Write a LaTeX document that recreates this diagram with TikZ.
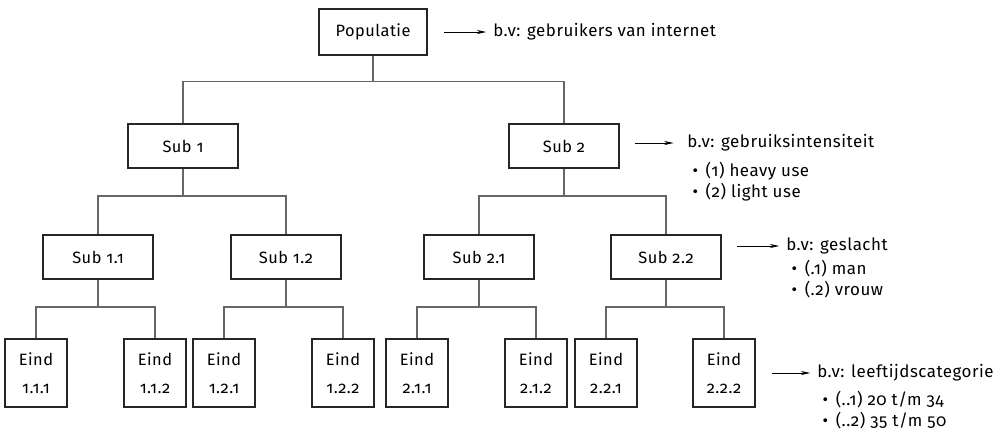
\documentclass[tikz,border=0pt]{standalone}
\usepackage{fontspec}
\setmainfont{Fira Sans}[Numbers=OldStyle, LetterSpace=3]
\usepackage{tikz}
\usetikzlibrary{arrows.meta}
\tikzset{
    box/.style={draw=black!85, line width=1.5pt, inner sep=0pt, font=\fontsize{12.3}{15}\selectfont}, % kaders
    top box/.style={box, minimum width=81pt, minimum height=34pt},
    sub box/.style={box, minimum width=83pt, minimum height=33pt},
    end box/.style={box, minimum width=46pt, minimum height=51pt, align=center},
    link/.style={draw=black!60, line width=0.8pt}, % boomlijnen
    note/.style={inner sep=0pt, anchor=west, font=\fontsize{12.7}{15}\selectfont},
    note arrow/.style={line width=0.7pt, -{Stealth[length=7pt, width=3pt, inset=2pt]}, shorten >=5pt}
}
\newcommand{\bul}{•\kern2pt\ }
\begin{document}
\begin{tikzpicture}[x=0.75pt, y=-0.75pt]
    \useasboundingbox (0,0) rectangle (1003,437);
    \def\busa{25.5} \def\busb{27} \def\yend{373}

    % boom
    \node[top box] (pop) at (373,32) {Populatie};
    \node[sub box] (s1) at (183,146) {Sub 1};
    \node[sub box] (s2) at (564,146) {Sub 2};
    \node[sub box] (s11) at (98,257) {Sub 1.1};
    \node[sub box] (s12) at (286,257) {Sub 1.2};
    \node[sub box] (s21) at (479,257) {Sub 2.1};
    \node[sub box] (s22) at (666,257) {Sub 2.2};
    \foreach \x/\lab [count=\i] in {36/1.1.1, 155/1.1.2, 224/1.2.1, 343/1.2.2, 417/2.1.1, 536/2.1.2, 606/2.2.1, 724/2.2.2}
        {\node[end box] (e\i) at (\x,\yend) {Eind\\[6pt]\lab};}

    \foreach \c in {s1, s2} {\draw[link] (pop.south) -- ++(0,\busa) -| (\c.north);}
    \foreach \p/\a/\b in {s1/s11/s12, s2/s21/s22}
        {\draw[link] (\p.south) -- ++(0,\busb) -| (\a.north); \draw[link] (\p.south) -- ++(0,\busb) -| (\b.north);}
    \foreach \p/\a/\b in {s11/1/2, s12/3/4, s21/5/6, s22/7/8}
        {\draw[link] (\p.south) -- ++(0,\busb) -| (e\a.north); \draw[link] (\p.south) -- ++(0,\busb) -| (e\b.north);}

    % toelichting
    \node[note] (h1) at (493,32) {b.v: gebruikers van internet};
    \coordinate (a1) at (444,32);
    \draw[note arrow] (a1) -- (h1);

    \node[note] (h2) at (687,143) {b.v: gebruiksintensiteit};
    \node[note] (h2a) at ([xshift=4pt, yshift=-21pt]h2.west) {\bul(1) heavy use};
    \node[note] (h2b) at ([yshift=-16pt]h2a.west) {\bul(2) light use};
    \coordinate (a2) at (635,143);
    \draw[note arrow, shorten >=10pt] (a2) -- (h2);

    \node[note] (h3) at (786,246) {b.v: geslacht};
    \node[note] (h3a) at ([xshift=4pt, yshift=-17pt]h3.west) {\bul(.1) man};
    \node[note] (h3b) at ([yshift=-16pt]h3a.west) {\bul(.2) vrouw};
    \coordinate (a3) at (737,246);
    \draw[note arrow] (a3) -- (h3);

    \node[note] (h4) at (817,373) {b.v: leeftijdscategorie};
    \node[note] (h4a) at ([xshift=4pt, yshift=-20pt]h4.west) {\bul(..1) 20 t/m 34};
    \node[note] (h4b) at ([yshift=-16pt]h4a.west) {\bul(..2) 35 t/m 50};
    \coordinate (a4) at (772,373);
    \draw[note arrow] (a4) -- (h4);
\end{tikzpicture}
\end{document}
